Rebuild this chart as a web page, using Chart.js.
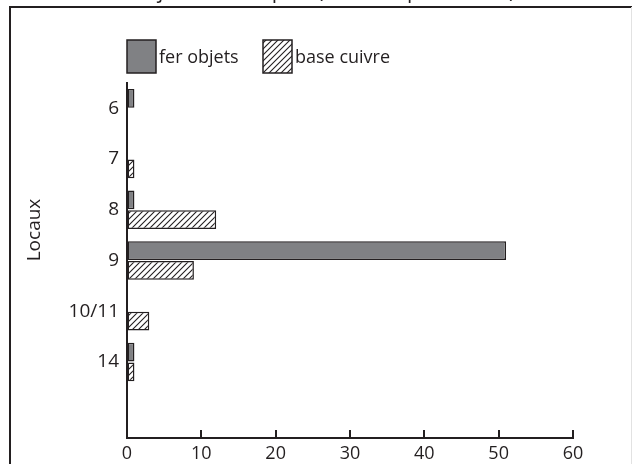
<!DOCTYPE html>
<html>
<head>
<meta charset="utf-8">
<script src="https://cdn.jsdelivr.net/npm/chart.js@4"></script>
<style>
html,body{margin:0;padding:0;background:#fff;}
#wrap{width:632px;height:464px;position:relative;}
</style>
</head>
<body>
<div id="wrap"><canvas id="c" width="632" height="464"></canvas></div>
<script>
const titleText = "Objets métalliques (nombre par locaux)";
const categories = ['6', '7', '8', '9', '10/11', '14', ''];
const seriesNames = ['fer objets', 'base cuivre'];
const ferObjets = [1, 0, 1, 51, 0, 1, 0];
const baseCuivre = [0, 1, 12, 9, 3, 1, 0];
const xTicks = [0, 10, 20, 30, 40, 50, 60];
const yTitle = 'Locaux';

const INK = '#231f20';
const GREY = '#808184';
const FONT = "'Open Sans', sans-serif";

function makeHatch() {
  const s = 6;
  const c = document.createElement('canvas');
  c.width = s; c.height = s;
  const g = c.getContext('2d');
  g.fillStyle = '#fff';
  g.fillRect(0, 0, s, s);
  g.strokeStyle = INK;
  g.lineWidth = 1.1;
  g.beginPath();
  g.moveTo(-1, s + 1); g.lineTo(s + 1, -1);
  g.moveTo(-1, 1); g.lineTo(1, -1);
  g.moveTo(s - 1, s + 1); g.lineTo(s + 1, s - 1);
  g.stroke();
  return g.createPattern(c, 'repeat');
}
const hatch = makeHatch();

const decor = {
  id: 'decor',
  beforeDraw(chart) {
    const ctx = chart.ctx;
    ctx.save();
    ctx.fillStyle = '#fff';
    ctx.fillRect(0, 0, chart.width, chart.height);
    // title (clipped at top)
    ctx.fillStyle = INK;
    ctx.font = "21px " + FONT;
    ctx.textAlign = 'center';
    ctx.textBaseline = 'alphabetic';
    ctx.fillText(titleText, 322, -2);
    // frame
    ctx.strokeStyle = INK;
    ctx.lineWidth = 2;
    ctx.beginPath();
    ctx.moveTo(10, 464);
    ctx.lineTo(10, 7);
    ctx.lineTo(632, 7);
    ctx.stroke();
    ctx.strokeStyle = '#e2e2e2';
    ctx.lineWidth = 1;
    ctx.beginPath();
    ctx.moveTo(631.5, 7);
    ctx.lineTo(631.5, 464);
    ctx.stroke();
    // y axis title
    ctx.translate(35, 230);
    ctx.rotate(-Math.PI / 2);
    ctx.font = "19px " + FONT;
    ctx.textAlign = 'center';
    ctx.textBaseline = 'middle';
    ctx.fillText(yTitle, 0, 0);
    ctx.restore();
  },
  afterDraw(chart) {
    const ctx = chart.ctx;
    const xs = chart.scales.x;
    const area = chart.chartArea;
    ctx.save();
    // inward ticks on x axis
    ctx.strokeStyle = INK;
    ctx.lineWidth = 2;
    ctx.beginPath();
    xs.ticks.forEach(t => {
      const px = Math.round(xs.getPixelForValue(t.value));
      ctx.moveTo(px, area.bottom);
      ctx.lineTo(px, area.bottom - 8);
    });
    ctx.stroke();
    // legend
    const items = [
      {x: 127, fill: chart.data.datasets[0].backgroundColor, label: chart.data.datasets[0].label},
      {x: 263, fill: chart.data.datasets[1].backgroundColor, label: chart.data.datasets[1].label}
    ];
    ctx.font = "18px " + FONT;
    ctx.textAlign = 'left';
    ctx.textBaseline = 'middle';
    items.forEach(it => {
      ctx.fillStyle = it.fill;
      ctx.fillRect(it.x, 40, 29, 33);
      ctx.strokeStyle = INK;
      ctx.lineWidth = 1.5;
      ctx.strokeRect(it.x, 40, 29, 33);
      ctx.fillStyle = INK;
      ctx.fillText(it.label, it.x + 32, 58);
    });
    ctx.restore();
  }
};

new Chart(document.getElementById('c'), {
  type: 'bar',
  data: {
    labels: categories,
    datasets: [
      {
        label: seriesNames[0],
        data: ferObjets.map(v => v || null),
        backgroundColor: GREY,
        borderColor: INK,
        borderWidth: 1.5,
        borderSkipped: false,
        categoryPercentage: 0.78,
        barPercentage: 0.95
      },
      {
        label: seriesNames[1],
        data: baseCuivre.map(v => v || null),
        backgroundColor: hatch,
        borderColor: INK,
        borderWidth: 1.5,
        borderSkipped: false,
        categoryPercentage: 0.78,
        barPercentage: 0.95
      }
    ]
  },
  options: {
    indexAxis: 'y',
    responsive: false,
    animation: false,
    devicePixelRatio: 1,
    layout: {padding: {top: 83, left: 10, right: 59, bottom: 0}},
    plugins: {
      legend: {display: false},
      tooltip: {enabled: false},
      title: {display: false}
    },
    scales: {
      x: {
        type: 'linear',
        min: 0,
        max: 60,
        afterBuildTicks(scale) { scale.ticks = xTicks.map(v => ({value: v})); },
        afterFit(scale) { scale.height = 26; },
        grid: {display: true, drawOnChartArea: false, drawTicks: false},
        border: {display: true, color: INK, width: 2},
        ticks: {
          color: INK,
          font: {family: FONT, size: 18},
          padding: 5,
          maxRotation: 0
        }
      },
      y: {
        type: 'category',
        offset: true,
        afterFit(scale) { scale.width = 117; },
        grid: {display: false, drawTicks: false},
        border: {display: true, color: INK, width: 2},
        ticks: {
          color: INK,
          font: {family: FONT, size: 19},
          padding: 8
        },
        title: {display: false}
      }
    }
  },
  plugins: [decor]
});
</script>
</body>
</html>
